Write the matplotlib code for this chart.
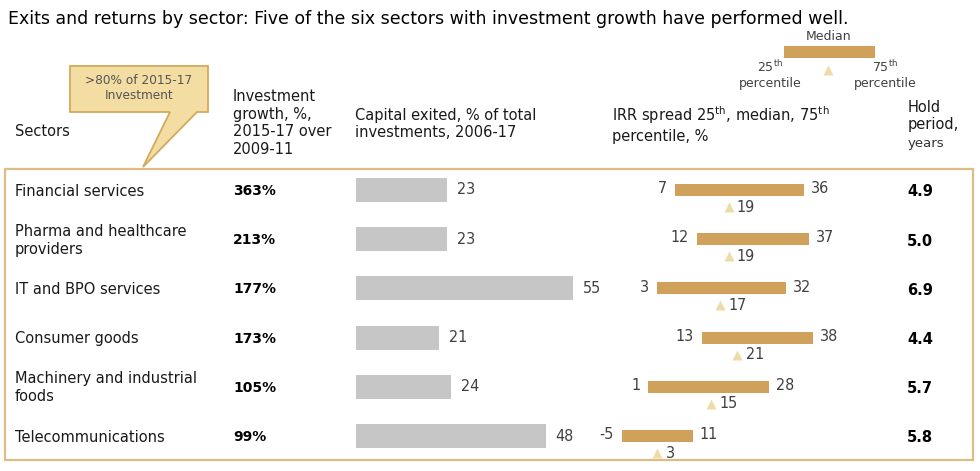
import matplotlib
matplotlib.use('Agg')
import matplotlib.pyplot as plt
from matplotlib.patches import Rectangle, Polygon
from matplotlib import font_manager

# data
sectors = ['Financial services', 'Pharma and healthcare\nproviders', 'IT and BPO services',
           'Consumer goods', 'Machinery and industrial\nfoods', 'Telecommunications']
inv_growth = [363, 213, 177, 173, 105, 99]
cap_exited = [23, 23, 55, 21, 24, 48]
irr_p25 = [7, 12, 3, 13, 1, -5]
irr_med = [19, 19, 17, 21, 15, 3]
irr_p75 = [36, 37, 32, 38, 28, 11]
hold_years = [4.9, 5.0, 6.9, 4.4, 5.7, 5.8]

GREY = '#C6C6C6'
GOLD = '#CFA15A'
PALE = '#EEDCA8'
FRAME = '#DDBD84'
TXT = '#1A1A1A'
NUM = '#404040'

installed = {f.name for f in font_manager.fontManager.ttflist}
narrow = [n for n in ['Liberation Sans Narrow', 'DejaVu Sans Condensed'] if n in installed]
NUMFONT = narrow[0] if narrow else 'DejaVu Sans'
plt.rcParams['font.family'] = ['DejaVu Sans']

W, H = 980, 471
fig = plt.figure(figsize=(W / 100, H / 100), dpi=100)

# pixel overlay for text, frame and callout
ax0 = fig.add_axes([0, 0, 1, 1])
ax0.set_xlim(0, W)
ax0.set_ylim(H, 0)
ax0.axis('off')

ROW0, ROWH = 190, 49.2
TOP, BOT = 165, 461
def row_y(i):
    return ROW0 + ROWH * i

def px_axes(x0, x1):
    return fig.add_axes([x0 / W, 1 - BOT / H, (x1 - x0) / W, (BOT - TOP) / H])

ylim = ((BOT - ROW0) / ROWH, (TOP - ROW0) / ROWH)

ax0.text(8, 19, 'Exits and returns by sector: Five of the six sectors with investment growth have performed well.',
         fontsize=12.5, color='black', va='center', ha='left')

# frame round the table
ax0.add_patch(Rectangle((5, 169), 968, 291, fill=False, ec=FRAME, lw=1.6))

# callout
ax0.add_patch(Polygon([(70, 66), (208, 66), (208, 112), (197, 112), (143, 167), (170, 112), (70, 112)],
                      closed=True, fc='#F4DDA2', ec='#D2AA5E', lw=1.3, zorder=3))
ax0.text(139, 88, '>80% of 2015-17\nInvestment', fontsize=8.7, color='#555555',
         ha='center', va='center', linespacing=1.15, zorder=4)

# headers
ax0.text(15, 131, 'Sectors', fontsize=10.5, color=TXT, va='center')
ax0.text(233, 123, 'Investment\ngrowth, %,\n2015-17 over\n2009-11', fontsize=10.5, color=TXT,
         va='center', linespacing=1.2)
ax0.text(355, 124, 'Capital exited, % of total\ninvestments, 2006-17', fontsize=10.5, color=TXT,
         va='center', linespacing=1.2)
ax0.text(612, 124, 'IRR spread 25$^{\\mathrm{th}}$, median, 75$^{\\mathrm{th}}$\npercentile, %',
         fontsize=10.5, color=TXT, va='center', linespacing=1.2)
ax0.text(908, 116, 'Hold\nperiod,', fontsize=10.5, color=TXT, va='center', linespacing=1.2)
ax0.text(908, 143, 'years', fontsize=9.5, color='#333333', va='center')

# key for the IRR bars
ax0.add_patch(Rectangle((784, 46), 91, 12, fc=GOLD, ec='none'))
ax0.plot([828], [70], marker='^', ms=7, color=PALE, mec='none', ls='none')
ax0.text(829, 37, 'Median', fontsize=9, color='#404040', ha='center', va='center')
ax0.text(770, 67, '25$^{\\mathrm{th}}$', fontsize=9, color='#404040', ha='center', va='center')
ax0.text(770, 83, 'percentile', fontsize=9, color='#404040', ha='center', va='center')
ax0.text(885, 67, '75$^{\\mathrm{th}}$', fontsize=9, color='#404040', ha='center', va='center')
ax0.text(885, 83, 'percentile', fontsize=9, color='#404040', ha='center', va='center')

# table text columns
for i, name in enumerate(sectors):
    y = row_y(i)
    ax0.text(15, y + 1, name, fontsize=10.5, color=TXT, va='center', linespacing=1.25)
    ax0.text(233, y + 1, f'{inv_growth[i]}%', fontsize=10, color='black', fontweight='bold', va='center')
    ax0.text(920, y + 2, f'{hold_years[i]:.1f}', fontsize=10.5, color='black', fontweight='bold',
             va='center', ha='center')

# capital exited bars
ax1 = px_axes(356, 620)
ax1.set_xlim(0, (620 - 356) / 3.95)
ax1.set_ylim(*ylim)
ax1.axis('off')
rows = list(range(len(sectors)))
ax1.barh(rows, cap_exited, height=24 / ROWH, color=GREY, align='center')
numkw = dict(fontsize=11.5, family=NUMFONT, fontstretch='condensed', color=NUM, va='center')
for i, v in enumerate(cap_exited):
    ax1.annotate(str(v), (v, i), xytext=(7, 0), textcoords='offset points', ha='left', **numkw)

# IRR spread bars
g0, gs = 644, 4.45
ax2 = px_axes(600, 880)
ax2.set_xlim((600 - g0) / gs, (880 - g0) / gs)
ax2.set_ylim(*ylim)
ax2.axis('off')
spans = [b - a for a, b in zip(irr_p25, irr_p75)]
ax2.barh(rows, spans, left=irr_p25, height=12 / ROWH, color=GOLD, align='center')
med_off = 17 / ROWH
ax2.plot(irr_med, [r + med_off for r in rows], marker='^', ms=7, color=PALE, mec='none', ls='none')
for i in rows:
    ax2.annotate(str(irr_p25[i]), (irr_p25[i], i), xytext=(-6, 1), textcoords='offset points',
                 ha='right', **numkw)
    ax2.annotate(str(irr_p75[i]), (irr_p75[i], i), xytext=(5, 1), textcoords='offset points',
                 ha='left', **numkw)
    ax2.annotate(str(irr_med[i]), (irr_med[i], i + med_off), xytext=(6, 0), textcoords='offset points',
                 ha='left', **numkw)

fig.savefig('out.png', dpi=100)
